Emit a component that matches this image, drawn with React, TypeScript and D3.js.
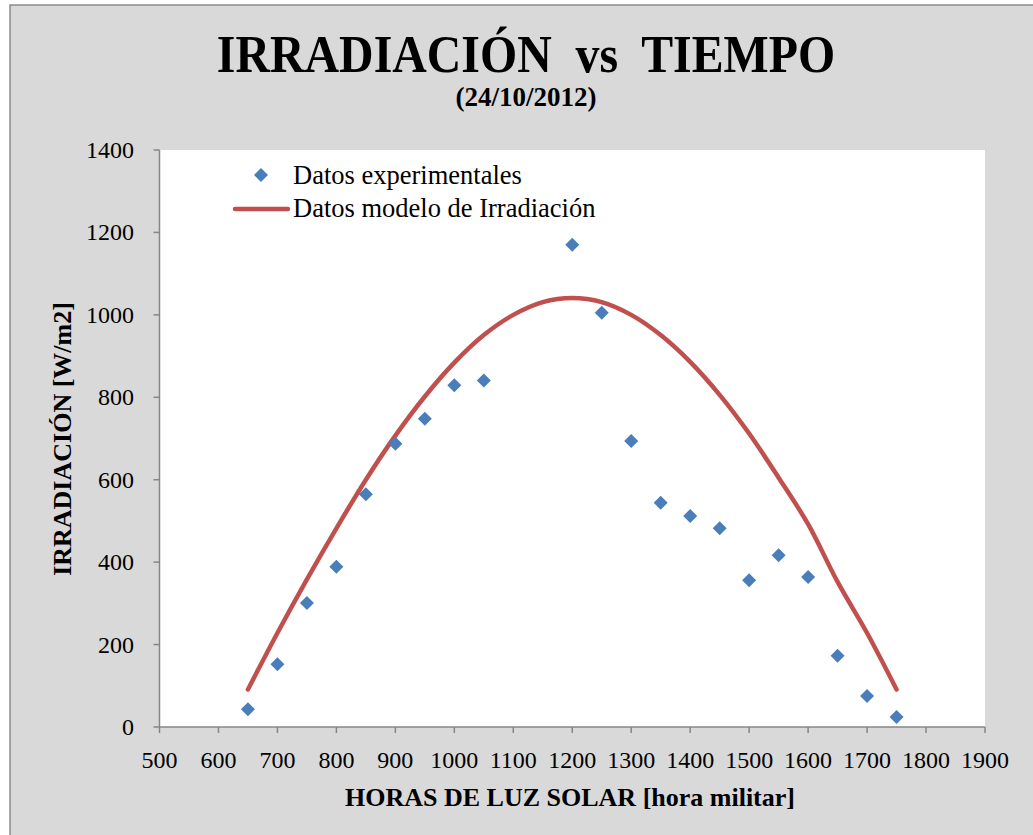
import React from "react";
import * as d3 from "d3";

const expHours = [650, 700, 750, 800, 850, 900, 950, 1000, 1050, 1200, 1250, 1300, 1350, 1400, 1450, 1500, 1550, 1600, 1650, 1700, 1750];
const expValues = [43, 152, 301, 389, 565, 687, 748, 829, 841, 1170, 1005, 694, 544, 512, 482, 356, 417, 364, 173, 75, 24];

const modelHours = [650, 700, 750, 800, 850, 900, 950, 1000, 1050, 1100, 1150, 1200, 1250, 1300, 1350, 1400, 1450, 1500, 1550, 1600, 1650, 1700, 1750];
const modelValues = [91, 228, 358, 482, 600, 707, 802, 884, 951, 1000, 1031, 1041, 1031, 1000, 951, 886, 806, 712, 605, 492, 352, 228, 91];

const xTicks = [500, 600, 700, 800, 900, 1000, 1100, 1200, 1300, 1400, 1500, 1600, 1700, 1800, 1900];
const yTicks = [0, 200, 400, 600, 800, 1000, 1200, 1400];

const W = 1033;
const H = 835;
const plot = { left: 159.5, right: 985, top: 150, bottom: 727 };
const serif = "'Liberation Serif', 'Times New Roman', serif";
const axisColor = "#868686";

export default function App() {
  const x = d3.scaleLinear().domain([500, 1900]).range([plot.left, plot.right]);
  const y = d3.scaleLinear().domain([0, 1400]).range([plot.bottom, plot.top]);

  const line = d3
    .line<number>()
    .x((_, i) => x(modelHours[i]))
    .y((d) => y(d))
    .curve(d3.curveCatmullRom.alpha(0.5));

  const diamond = (cx: number, cy: number, r: number) =>
    `M${cx},${cy - r}L${cx + r},${cy}L${cx},${cy + r}L${cx - r},${cy}Z`;

  return (
    <svg
      width={W}
      height={H}
      style={{ position: "absolute", left: 0, top: 0, background: "#fff" }}
      fontFamily={serif}
    >
      <rect x={10} y={5} width={1100} height={900} fill="#d9d9d9" stroke="#8a8a8a" strokeWidth={1.5} />
      <rect x={plot.left} y={plot.top} width={plot.right - plot.left} height={plot.bottom - plot.top} fill="#fff" />

      {/* title */}
      <text
        transform={`translate(526,72) scale(0.92,1)`}
        textAnchor="middle"
        fontSize={52}
        fontWeight="bold"
        fill="#000"
        style={{ whiteSpace: "pre" }}
      >
        {"IRRADIACIÓN  vs  TIEMPO"}
      </text>
      <text x={526} y={106} textAnchor="middle" fontSize={27} fontWeight="bold" fill="#000">
        (24/10/2012)
      </text>

      {/* axes */}
      <line x1={plot.left} x2={plot.left} y1={plot.top} y2={plot.bottom} stroke={axisColor} strokeWidth={1.5} />
      <line x1={plot.left} x2={plot.right} y1={plot.bottom} y2={plot.bottom} stroke={axisColor} strokeWidth={1.5} />
      {yTicks.map((t) => (
        <g key={"y" + t}>
          <line x1={plot.left - 6} x2={plot.left} y1={y(t)} y2={y(t)} stroke={axisColor} strokeWidth={1.5} />
          <text x={134} y={y(t) + 8} textAnchor="end" fontSize={24} fill="#000">
            {t}
          </text>
        </g>
      ))}
      {xTicks.map((t) => (
        <g key={"x" + t}>
          <line x1={x(t)} x2={x(t)} y1={plot.bottom} y2={plot.bottom + 6} stroke={axisColor} strokeWidth={1.5} />
          <text x={x(t)} y={768} textAnchor="middle" fontSize={24} fill="#000">
            {t}
          </text>
        </g>
      ))}

      {/* axis titles */}
      <text x={570} y={806} textAnchor="middle" fontSize={26} fontWeight="bold" fill="#000">
        HORAS DE LUZ SOLAR [hora militar]
      </text>
      <text
        transform={`translate(71,439) rotate(-90)`}
        textAnchor="middle"
        fontSize={26}
        fontWeight="bold"
        fill="#000"
      >
        IRRADIACIÓN [W/m2]
      </text>

      {/* model line */}
      <path d={line(modelValues) || ""} fill="none" stroke="#C0504D" strokeWidth={4.5} strokeLinecap="round" />

      {/* experimental points */}
      {expValues.map((v, i) => (
        <path key={"p" + i} d={diamond(x(expHours[i]), y(v), 7)} fill="#4A7EBB" />
      ))}

      {/* legend */}
      <path d={diamond(261, 175, 7)} fill="#4A7EBB" />
      <text x={293} y={184} fontSize={26.5} fill="#000">
        Datos experimentales
      </text>
      <line x1={235} x2={288} y1={209} y2={209} stroke="#C0504D" strokeWidth={4.5} strokeLinecap="round" />
      <text x={293} y={217} fontSize={26.5} fill="#000">
        Datos modelo de Irradiación
      </text>
    </svg>
  );
}
